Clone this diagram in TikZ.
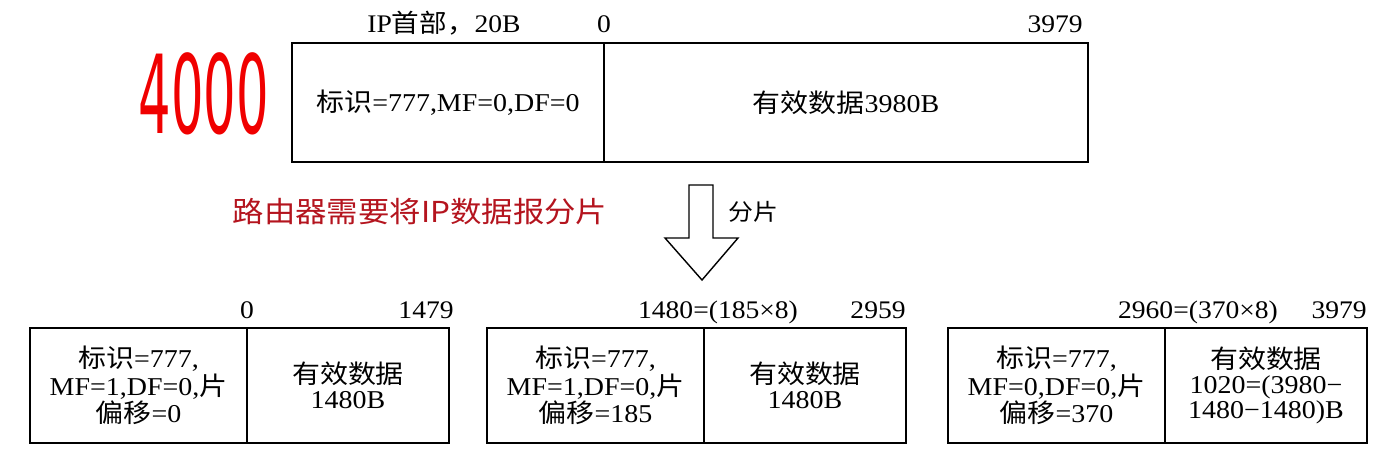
\documentclass[tikz,border=0pt]{standalone}
\usepackage{fontspec}
\setmainfont{Liberation Serif}[FakeStretch=1.09]
\newfontfamily\zh{Noto Sans CJK SC}[FakeStretch=1.09]
\newfontfamily\hand{DejaVu Sans}[FakeStretch=0.47]
\newcommand{\hz}[1]{{\zh #1}}
\usepackage{xcolor}
\definecolor{routerRed}{HTML}{B4141E}
\definecolor{inkRed}{HTML}{F00000}
\usetikzlibrary{positioning}

\begin{document}
\begin{tikzpicture}[
		cell/.style={
			draw=none,
			outer sep=0pt,
			inner sep=2pt,
			align=center,
			minimum height=2.3cm,
			font=\fontsize{14.6}{14.4}\selectfont
		},
		hcell/.style={cell, minimum width=4.34cm},
		dcell/.style={cell, minimum width=4.04cm},
		frame/.style={line width=1.3pt},
		split/.style={line width=0.7pt},
		lbl/.style={inner sep=0pt, font=\fontsize{14.4}{14.4}\selectfont}
		]
		
		\useasboundingbox (0,0) rectangle (27.78,-9.08);
		
		\node[cell, minimum width=6.24cm, minimum height=2.38cm, anchor=north west] (hdr) at (5.84,-0.86) {\hz{标识}=777,MF=0,DF=0};
		\node[cell, minimum width=9.68cm, minimum height=2.38cm, right=0pt of hdr] (data) {\hz{有效数据}3980B};
		\draw[frame] (hdr.north west) rectangle (data.south east);
		\draw[split] (hdr.north east) -- (hdr.south east);
		
		\node[lbl, anchor=base] (hdrlen) at ([xshift=-0.08cm, yshift=0.22cm]hdr.north) {IP\hz{首部，}20B};
		\node[lbl, anchor=base] (off0) at ([yshift=0.22cm]data.north west) {0};
		\node[lbl, anchor=base east] (end0) at ([xshift=-0.1cm, yshift=0.22cm]data.north east) {3979};
		
		\node[font=\hand\fontsize{62}{62}\selectfont, text=inkRed] (total) at (4.08,-1.88) {4000};
		
		\node[font=\zh\fontsize{16.4}{16.4}\selectfont, text=routerRed] (note) at (8.4,-4.24) {路由器需要将IP数据报分片};
		\draw[line width=0.8pt, line join=miter] (13.78,-3.7) -- (14.26,-3.7) -- (14.26,-4.76) -- (14.76,-4.76)
			-- (14.04,-5.6) -- (13.3,-4.76) -- (13.78,-4.76) -- cycle;
		\node[font=\zh\fontsize{13}{13}\selectfont] (fp) at (15.06,-4.24) {分片};
		
		\node[hcell, anchor=north west] (h1) at (0.6,-6.56) {\hz{标识}=777,\\MF=1,DF=0,\hz{片}\\\hz{偏移}=0};
		\node[dcell, right=0pt of h1] (d1) {\hz{有效数据}\\1480B};
		\draw[frame] (h1.north west) rectangle (d1.south east);
		\draw[split] (h1.north east) -- (h1.south east);
		\node[lbl, anchor=base] (o1) at ([yshift=0.2cm]d1.north west) {0};
		\node[lbl, anchor=base east] (e1) at ([xshift=0.1cm, yshift=0.2cm]d1.north east) {1479};
		
		\node[hcell, anchor=north west] (h2) at (9.74,-6.56) {\hz{标识}=777,\\MF=1,DF=0,\hz{片}\\\hz{偏移}=185};
		\node[dcell, right=0pt of h2] (d2) {\hz{有效数据}\\1480B};
		\draw[frame] (h2.north west) rectangle (d2.south east);
		\draw[split] (h2.north east) -- (h2.south east);
		\node[lbl, anchor=base] (o2) at ([xshift=0.28cm, yshift=0.2cm]d2.north west) {1480=(185×8)};
		\node[lbl, anchor=base east] (e2) at ([yshift=0.2cm]d2.north east) {2959};
		
		\node[hcell, anchor=north west] (h3) at (18.96,-6.56) {\hz{标识}=777,\\MF=0,DF=0,\hz{片}\\\hz{偏移}=370};
		\node[dcell, right=0pt of h3] (d3) {\hz{有效数据}\\1020=(3980−\\1480−1480)B};
		\draw[frame] (h3.north west) rectangle (d3.south east);
		\draw[split] (h3.north east) -- (h3.south east);
		\node[lbl, anchor=base] (o3) at ([xshift=0.66cm, yshift=0.2cm]d3.north west) {2960=(370×8)};
		\node[lbl, anchor=base east] (e3) at ([yshift=0.2cm]d3.north east) {3979};
		
	\end{tikzpicture}
\end{document}
